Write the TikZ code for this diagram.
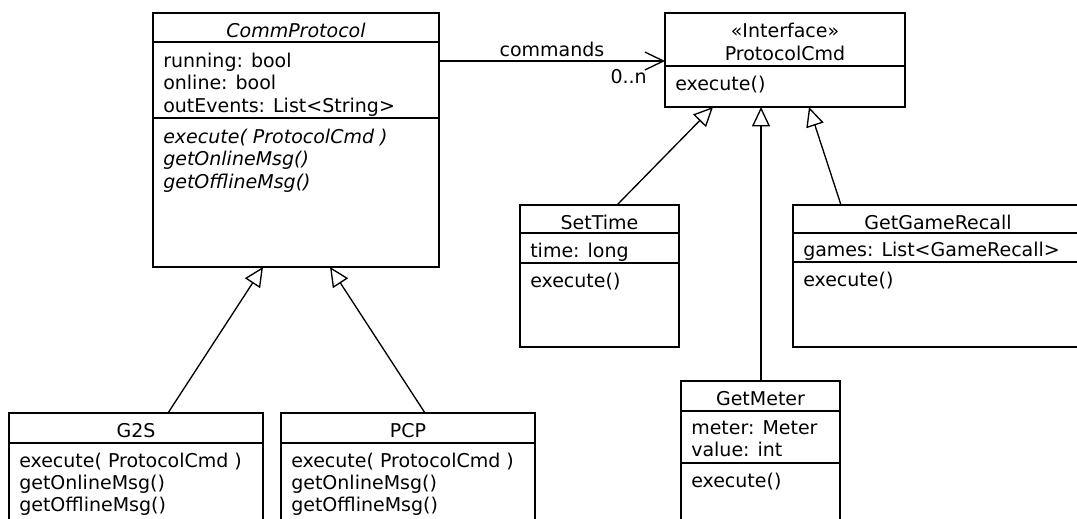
\documentclass[tikz,border=0pt]{standalone}
\usepackage{fontspec}
\setmainfont{DejaVu Sans}
\usetikzlibrary{arrows.meta}

\tikzset{
  cls/.style={draw, line width=1pt, anchor=north west, inner sep=0pt, outer sep=0pt},
  txt/.style={anchor=base west, inner sep=0pt, font=\fontsize{14.25pt}{16.5pt}\selectfont},
  head/.style={anchor=base, inner sep=0pt, font=\fontsize{14.25pt}{16.5pt}\selectfont},
  sep/.style={line width=1pt},
  gen/.style={line width=1pt, -{Triangle[open, length=14.5pt, width=13.5pt, fill=white]}},
  assoc/.style={line width=1pt, -{Straight Barb[length=14pt, width=13.5pt]}}
}

\begin{document}
\begin{tikzpicture}[x=0.75pt, y=-0.75pt]
\useasboundingbox (0,0) rectangle (1077,518);
\clip (0,0) rectangle (1077,518);
\fill[white] (0,0) rectangle (1077,518);

% ---- CommProtocol (abstract) ----
\node[cls, minimum width=214.5pt, minimum height=190.5pt] (cp) at (153,13) {};
\draw[sep] (cp.west |- 0,42) -- (cp.east |- 0,42);
\draw[sep] (cp.west |- 0,118) -- (cp.east |- 0,118);
\node[head] (cpName) at (296,37) {\itshape CommProtocol};
\node[txt] (cpA1) at (163,67) {running: bool};
\node[txt] (cpA2) at (163,89.5) {online: bool};
\node[txt] (cpA3) at (163,112) {outEvents: List<String>};
\node[txt] (cpM1) at (163,143) {\itshape execute( ProtocolCmd )};
\node[txt] (cpM2) at (163,165.5) {\itshape getOnlineMsg()};
\node[txt] (cpM3) at (163,188) {\itshape getOfflineMsg()};

% ---- ProtocolCmd interface ----
\node[cls, minimum width=180pt, minimum height=70.5pt] (pc) at (665,13) {};
\draw[sep] (pc.west |- 0,66) -- (pc.east |- 0,66);
\node[head] (pcSt) at (785,37) {«Interface»};
\node[head] (pcName) at (785,60) {ProtocolCmd};
\node[txt] (pcM1) at (675,90) {execute()};

% ---- SetTime ----
\node[cls, minimum width=119.25pt, minimum height=106.5pt] (st) at (520,205) {};
\draw[sep] (st.west |- 0,233) -- (st.east |- 0,233);
\draw[sep] (st.west |- 0,263) -- (st.east |- 0,263);
\node[head] (stName) at (599.5,229) {SetTime};
\node[txt] (stA1) at (530,257) {time: long};
\node[txt] (stM1) at (530,287) {execute()};

% ---- GetGameRecall ----
\node[cls, minimum width=217.5pt, minimum height=106.5pt] (ggr) at (793,205) {};
\draw[sep] (ggr.west |- 0,233) -- (ggr.east |- 0,233);
\draw[sep] (ggr.west |- 0,262) -- (ggr.east |- 0,262);
\node[head] (ggrName) at (938,229) {GetGameRecall};
\node[txt] (ggrA1) at (803,256.5) {games: List<GameRecall>};
\node[txt] (ggrM1) at (803,286) {execute()};

% ---- GetMeter ----
\node[cls, minimum width=119.25pt, minimum height=120pt] (gm) at (681,381) {};
\draw[sep] (gm.west |- 0,411) -- (gm.east |- 0,411);
\draw[sep] (gm.west |- 0,463) -- (gm.east |- 0,463);
\node[head] (gmName) at (760.5,405) {GetMeter};
\node[txt] (gmA1) at (691,434) {meter: Meter};
\node[txt] (gmA2) at (691,456) {value: int};
\node[txt] (gmM1) at (691,487) {execute()};

% ---- G2S ----
\node[cls, minimum width=190.5pt, minimum height=97.5pt] (g2s) at (9,413) {};
\draw[sep] (g2s.west |- 0,443) -- (g2s.east |- 0,443);
\node[head] (g2sName) at (136,437) {G2S};
\node[txt] (g2sM1) at (19,467) {execute( ProtocolCmd )};
\node[txt] (g2sM2) at (19,489) {getOnlineMsg()};
\node[txt] (g2sM3) at (19,511) {getOfflineMsg()};

% ---- PCP ----
\node[cls, minimum width=190.5pt, minimum height=97.5pt] (pcp) at (281,413) {};
\draw[sep] (pcp.west |- 0,443) -- (pcp.east |- 0,443);
\node[head] (pcpName) at (408,437) {PCP};
\node[txt] (pcpM1) at (291,467) {execute( ProtocolCmd )};
\node[txt] (pcpM2) at (291,489) {getOnlineMsg()};
\node[txt] (pcpM3) at (291,511) {getOfflineMsg()};

% ---- generalisations ----
\draw[gen] ([xshift=24pt]g2s.north) -- ([xshift=-24.75pt]cp.south);
\draw[gen] ([xshift=12.75pt]pcp.north) -- ([xshift=25.5pt]cp.south);
\draw[gen] ([xshift=13.125pt]st.north) -- ([xshift=-54pt]pc.south);
\draw[gen] ([xshift=0.375pt]gm.north) -- ([xshift=-18pt]pc.south);
\draw[gen] ([xshift=-72.75pt]ggr.north) -- ([xshift=18pt]pc.south);

% ---- association ----
\draw[assoc] ([yshift=59.25pt]cp.east) -- ([yshift=-0.75pt]pc.west);
\node[head] (lblCmd) at (552,56.5) {commands};
\node[head, anchor=base east] (lblMult) at (647,83) {0..n};
\end{tikzpicture}
\end{document}
